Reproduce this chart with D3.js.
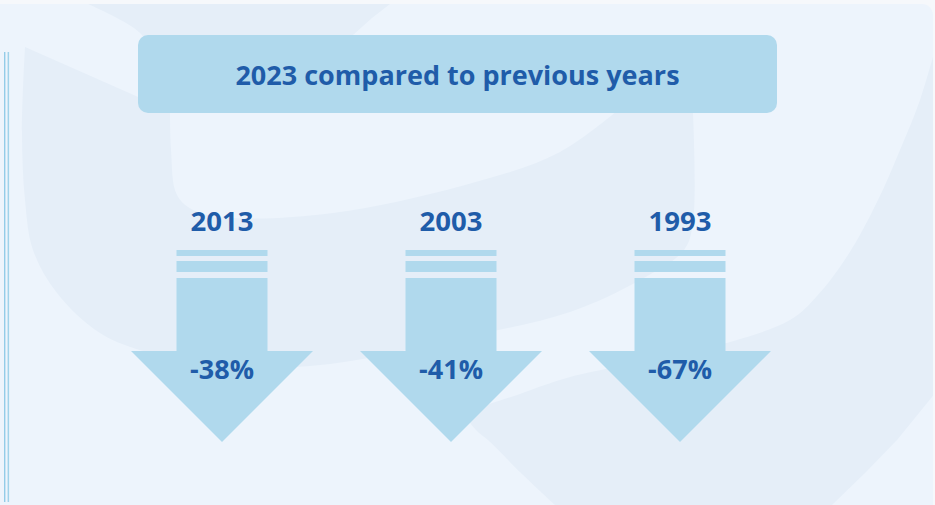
<!DOCTYPE html>
<html>
<head>
<meta charset="utf-8">
<script src="https://cdn.jsdelivr.net/npm/d3@7"></script>
<style>
  html, body { margin: 0; padding: 0; background: #f6f8fb; }
  svg { display: block; }
  text { font-family: "Open Sans", Lato, sans-serif; font-weight: 700; }
</style>
</head>
<body>
<svg id="chart" width="935" height="505"></svg>
<script>
// ---- data ----
const title = "2023 compared to previous years";
const years = ["2013", "2003", "1993"];
const changes = [-38, -41, -67];

// ---- styling ----
const cardColor = "#edf4fc";
const shadeColor = "#e5eef8";
const arrowColor = "#b0d9ed";
const textColor = "#1f5ca9";

const svg = d3.select("#chart");

// card clip (rounded top-right corner)
const defs = svg.append("defs");
const card = { x: 0, y: 4, w: 933, h: 501, r: 11 };
function cardPath() {
  const p = d3.path();
  p.moveTo(card.x, card.y);
  p.lineTo(card.x + card.w - card.r, card.y);
  p.arcTo(card.x + card.w, card.y, card.x + card.w, card.y + card.r, card.r);
  p.lineTo(card.x + card.w, card.y + card.h);
  p.lineTo(card.x, card.y + card.h);
  p.closePath();
  return p.toString();
}
defs.append("clipPath").attr("id", "cardClip").append("path").attr("d", cardPath());

svg.append("path").attr("d", cardPath()).attr("fill", cardColor);

// decorative background swooshes
const deco = svg.append("g").attr("clip-path", "url(#cardClip)");
const smooth = d3.line().curve(d3.curveCatmullRom.alpha(0.5));

// big left shield
const shieldEdge = [[25,47],[22,133],[25,200],[33,250],[57,293],[100,333],[150,353],[233,367],
  [330,364],[465,337],[570,312],[640,280],[684,250],[693,222],[693,113]];
deco.append("path")
  .attr("d", smooth(shieldEdge) + "L693,100L145,100Z")
  .attr("fill", shadeColor);

// lighter bowl inside the shield
const bowlEdge = [[170,100],[171,150],[177,195],[195,211],[233,218],[333,213],[465,185],[560,152],[630,100]];
deco.append("path")
  .attr("d", smooth(bowlEdge) + "Z")
  .attr("fill", cardColor);

// small bowl at the top
const topEdge = [[88,4],[115,17],[140,33],[158,60]];
deco.append("path")
  .attr("d", smooth(topEdge) + "L340,60L353,35L372,18L390,4Z")
  .attr("fill", shadeColor);

// large sweep at the lower right
const sweepOuter = [[936,46],[920,100],[900,150],[878,200],[848,255],[817,296],[790,320],[700,350],
  [570,377],[520,394],[476,410],[468,418],[476,430],[489,441],[522,474],[555,505]];
deco.append("path")
  .attr("d", smooth(sweepOuter) + "L832,505L866,472L897,440L936,392Z")
  .attr("fill", shadeColor);

// left double rule
svg.append("rect").attr("x", 4).attr("y", 52).attr("width", 1.4).attr("height", 450).attr("fill", "#93cce8");
svg.append("rect").attr("x", 7.6).attr("y", 52).attr("width", 1.5).attr("height", 450).attr("fill", "#9fd2ea");

// title box
const titleBox = { x: 138, y: 35, w: 639, h: 78 };
svg.append("rect")
  .attr("x", titleBox.x).attr("y", titleBox.y)
  .attr("width", titleBox.w).attr("height", titleBox.h)
  .attr("rx", 10).attr("fill", arrowColor);
svg.append("text")
  .attr("x", titleBox.x + titleBox.w / 2).attr("y", 85)
  .attr("text-anchor", "middle")
  .attr("font-size", 27)
  .attr("fill", textColor)
  .text(title);

// arrow positions
const x = d3.scalePoint().domain(years).range([222, 680]);
const shaftHalf = 45.5, headHalf = 91;
const yStripe1 = [250, 256], yStripe2 = [261, 272], yShaft = 278, yHead = 351, yTip = 442;

const data = years.map((y, i) => ({ year: y, change: changes[i] }));
// plain hyphen for negative numbers
const fmtLocale = d3.formatLocale({ decimal: ".", thousands: ",", grouping: [3], currency: ["", ""], minus: "-" });
const fmt = d => fmtLocale.format("d")(d) + "%";

const groups = svg.selectAll("g.arrow").data(data).join("g")
  .attr("class", "arrow")
  .attr("transform", d => `translate(${x(d.year)},0)`);

groups.append("rect").attr("x", -shaftHalf).attr("y", yStripe1[0])
  .attr("width", shaftHalf * 2).attr("height", yStripe1[1] - yStripe1[0]).attr("fill", arrowColor);
groups.append("rect").attr("x", -shaftHalf).attr("y", yStripe2[0])
  .attr("width", shaftHalf * 2).attr("height", yStripe2[1] - yStripe2[0]).attr("fill", arrowColor);
groups.append("path")
  .attr("d", () => {
    const p = d3.path();
    p.moveTo(-shaftHalf, yShaft);
    p.lineTo(shaftHalf, yShaft);
    p.lineTo(shaftHalf, yHead);
    p.lineTo(headHalf, yHead);
    p.lineTo(0, yTip);
    p.lineTo(-headHalf, yHead);
    p.lineTo(-shaftHalf, yHead);
    p.closePath();
    return p.toString();
  })
  .attr("fill", arrowColor);

groups.append("text")
  .attr("x", 0).attr("y", 231)
  .attr("text-anchor", "middle")
  .attr("font-size", 27.5)
  .attr("fill", textColor)
  .text(d => d.year);

groups.append("text")
  .attr("x", 0).attr("y", 379)
  .attr("text-anchor", "middle")
  .attr("font-size", 27)
  .attr("fill", textColor)
  .text(d => fmt(d.change));
</script>
</body>
</html>
